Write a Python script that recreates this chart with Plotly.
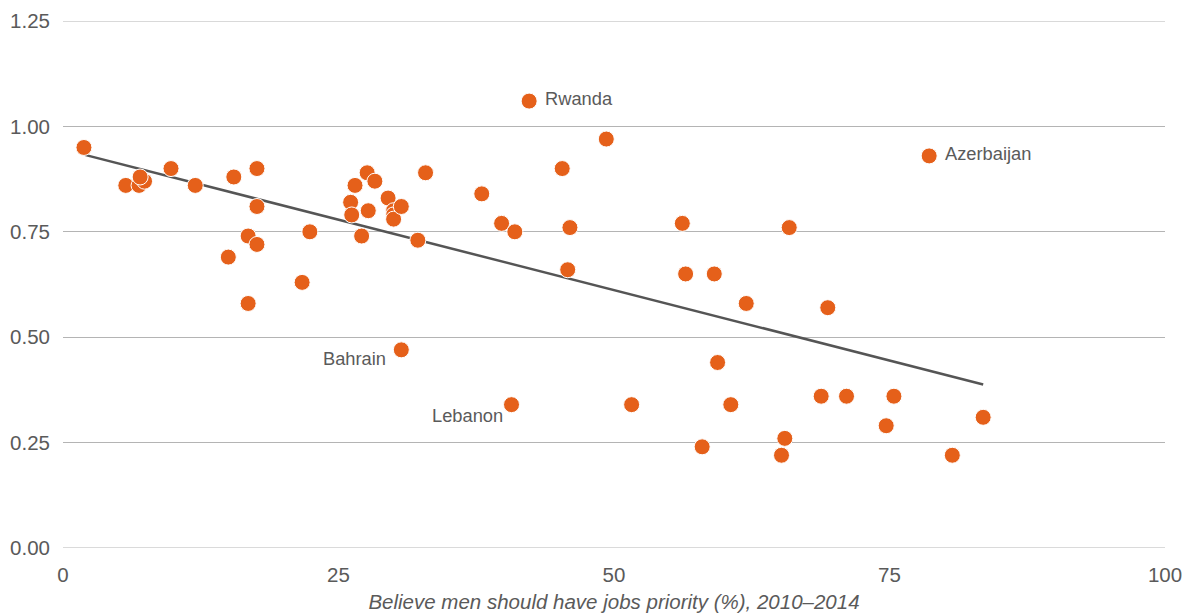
import numpy as np
import plotly.graph_objects as go

# Data
jobs_priority = [1.9, 5.7, 6.9, 7.4, 7.0, 9.8, 12.0, 15.0, 15.5, 16.8, 16.8, 17.6, 17.6, 17.6,
                 21.7, 22.4, 26.1, 26.2, 26.5, 27.1, 27.6, 27.7, 28.3, 29.5, 30.0, 30.0, 30.0,
                 30.7, 30.7, 32.2, 32.9, 38.0, 39.8, 40.7, 41.0, 42.3, 45.3, 45.8, 46.0, 49.3,
                 51.6, 56.2, 56.5, 58.0, 59.1, 59.4, 60.6, 62.0, 65.2, 65.5, 65.9, 68.8, 69.4,
                 71.1, 74.7, 75.4, 78.6, 80.7, 83.5]
ratio = [0.95, 0.86, 0.86, 0.87, 0.88, 0.90, 0.86, 0.69, 0.88, 0.74, 0.58, 0.90, 0.81, 0.72,
         0.63, 0.75, 0.82, 0.79, 0.86, 0.74, 0.89, 0.80, 0.87, 0.83, 0.80, 0.79, 0.78,
         0.81, 0.47, 0.73, 0.89, 0.84, 0.77, 0.34, 0.75, 1.06, 0.90, 0.66, 0.76, 0.97,
         0.34, 0.77, 0.65, 0.24, 0.65, 0.44, 0.34, 0.58, 0.22, 0.26, 0.76, 0.36, 0.57,
         0.36, 0.29, 0.36, 0.93, 0.22, 0.31]
labels = [""] * len(jobs_priority)
labels[28] = "Bahrain"
labels[33] = "Lebanon"
labels[35] = "Rwanda"
labels[56] = "Azerbaijan"

x_ticks = [0, 25, 50, 75, 100]
y_ticks = [0, 0.25, 0.5, 0.75, 1.0, 1.25]
x_title = "Believe men should have jobs priority (%), 2010–2014"

ORANGE = "#E5601A"
GRAY_TEXT = "#5a5a5a"
GRID = "#b4b4b4"
FONT = "Liberation Sans, Arial, sans-serif"

xs = np.array(jobs_priority)
ys = np.array(ratio)
slope, intercept = np.polyfit(xs, ys, 1)
line_x = np.array([xs.min(), xs.max()])
line_y = intercept + slope * line_x

fig = go.Figure()
fig.add_trace(go.Scatter(x=line_x, y=line_y, mode="lines",
                         line=dict(color="#555555", width=2.5),
                         hoverinfo="skip", showlegend=False))
fig.add_trace(go.Scatter(x=jobs_priority, y=ratio, mode="markers",
                         marker=dict(color=ORANGE, size=16,
                                     line=dict(color="white", width=1)),
                         text=labels, showlegend=False))

# grid lines at the range ends (Plotly drops edge gridlines)
for v in (y_ticks[0], y_ticks[-1]):
    fig.add_shape(type="line", xref="paper", yref="y", x0=0, x1=1, y0=v, y1=v,
                  line=dict(color=GRID, width=1), layer="below")

label_style = {
    "Rwanda": dict(xanchor="left", xshift=14, yshift=3),
    "Azerbaijan": dict(xanchor="left", xshift=14, yshift=2),
    "Bahrain": dict(xanchor="right", xshift=-13, yshift=-9),
    "Lebanon": dict(xanchor="right", xshift=-7, yshift=-11),
}
for xv, yv, lab in zip(jobs_priority, ratio, labels):
    if lab:
        fig.add_annotation(x=xv, y=yv, text=lab, showarrow=False,
                           font=dict(family=FONT, size=18.3, color=GRAY_TEXT),
                           yanchor="middle", **label_style[lab])

fig.update_layout(
    width=1190, height=613,
    margin=dict(l=55, r=33, t=13, b=73),
    plot_bgcolor="white", paper_bgcolor="white",
    font=dict(family=FONT, color=GRAY_TEXT, size=20),
    xaxis=dict(range=[0, 100], tickvals=x_ticks, showgrid=False, zeroline=False,
               showline=False, ticks="", ticklabelstandoff=12, automargin=False,
               tickfont=dict(size=20.5, color=GRAY_TEXT),
               title=dict(text=x_title, standoff=10,
                          font=dict(size=20.5, color=GRAY_TEXT, style="italic"))),
    yaxis=dict(range=[0, 1.25], tickvals=y_ticks, tickformat=".2f",
               showgrid=True, gridcolor=GRID, gridwidth=1, automargin=False,
               zeroline=False, showline=False, ticks="",
               ticklabelstandoff=12, tickfont=dict(size=20.5, color=GRAY_TEXT)),
)

fig.write_html("out.html")
